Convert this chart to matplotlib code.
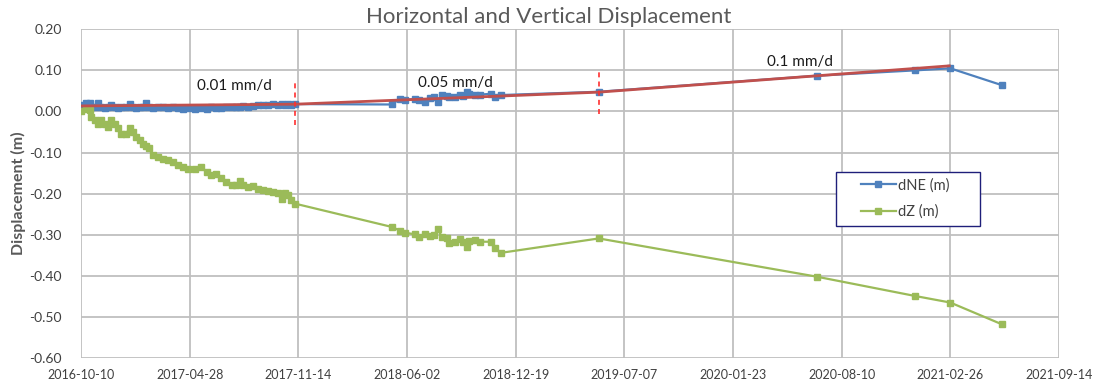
import matplotlib.pyplot as plt
import matplotlib.dates as mdates
import pandas as pd
from matplotlib.patches import Rectangle
from matplotlib.lines import Line2D

plt.rcParams['font.family'] = ['Lato', 'DejaVu Sans']
plt.rcParams['axes.unicode_minus'] = False

# survey epochs
survey_dates = [
    '2016-10-10', '2016-10-20', '2016-10-26', '2016-10-29', '2016-11-04', '2016-11-10',
    '2016-11-16', '2016-11-23', '2016-11-29', '2016-12-05', '2016-12-11', '2016-12-17',
    '2016-12-23', '2017-01-01', '2017-01-08', '2017-01-14', '2017-01-20', '2017-01-26',
    '2017-02-01', '2017-02-07', '2017-02-13', '2017-02-19', '2017-03-01', '2017-03-10',
    '2017-03-19', '2017-03-28', '2017-04-06', '2017-04-16', '2017-04-25', '2017-05-07',
    '2017-05-19', '2017-05-29', '2017-06-07', '2017-06-16', '2017-06-25', '2017-07-04',
    '2017-07-14', '2017-07-23', '2017-07-29', '2017-08-04', '2017-08-13', '2017-08-22',
    '2017-09-01', '2017-09-10', '2017-09-19', '2017-09-28', '2017-10-07', '2017-10-14',
    '2017-10-20', '2017-10-26', '2017-11-01', '2017-11-07',
    '2018-05-05', '2018-05-20', '2018-05-29', '2018-06-17', '2018-06-24', '2018-07-05',
    '2018-07-14', '2018-07-22', '2018-07-29', '2018-08-05', '2018-08-14', '2018-08-19',
    '2018-08-29', '2018-09-07', '2018-09-13', '2018-09-21', '2018-09-24', '2018-10-05',
    '2018-10-14', '2018-11-03', '2018-11-11', '2018-11-22',
    '2019-05-21', '2020-06-25', '2020-12-23', '2021-02-26', '2021-06-01',
]

# horizontal displacement (m)
dne = [
    0.015, 0.020, 0.020, 0.012, 0.010, 0.020, 0.012, 0.008, 0.012, 0.015, 0.010, 0.008,
    0.012, 0.010, 0.018, 0.012, 0.008, 0.010, 0.010, 0.020, 0.010, 0.008, 0.010, 0.012,
    0.008, 0.010, 0.008, 0.007, 0.008, 0.006, 0.009, 0.007, 0.010, 0.008, 0.009, 0.011,
    0.010, 0.012, 0.010, 0.013, 0.012, 0.014, 0.015, 0.016, 0.015, 0.017, 0.016, 0.018,
    0.016, 0.017, 0.015, 0.018,
    0.017, 0.031, 0.029, 0.030, 0.029, 0.022, 0.034, 0.036, 0.023, 0.039, 0.038, 0.036,
    0.035, 0.039, 0.037, 0.047, 0.042, 0.040, 0.041, 0.043, 0.036, 0.040,
    0.048, 0.087, 0.100, 0.105, 0.064,
]

# vertical displacement (m)
dz = [
    0.000, 0.005, 0.003, -0.014, -0.021, -0.030, -0.021, -0.030, -0.037, -0.021, -0.030, -0.041,
    -0.054, -0.054, -0.040, -0.050, -0.062, -0.070, -0.080, -0.084, -0.090, -0.106, -0.110, -0.115,
    -0.118, -0.123, -0.131, -0.135, -0.139, -0.140, -0.135, -0.147, -0.155, -0.151, -0.163, -0.171,
    -0.179, -0.179, -0.169, -0.179, -0.184, -0.182, -0.188, -0.192, -0.194, -0.196, -0.198, -0.212,
    -0.198, -0.204, -0.216, -0.224,
    -0.281, -0.290, -0.295, -0.299, -0.305, -0.299, -0.304, -0.300, -0.287, -0.305, -0.307, -0.320,
    -0.317, -0.311, -0.317, -0.330, -0.315, -0.313, -0.317, -0.317, -0.333, -0.344,
    -0.309, -0.402, -0.449, -0.465, -0.518,
]

# piecewise horizontal trend
trend_dates = ['2016-10-10', '2017-11-08', '2019-05-21', '2021-02-24']
trend_values = [0.0135, 0.0177, 0.047, 0.111]

# rate-change markers
break_dates = ['2017-11-08', '2019-05-21']
break_low = [-0.034, -0.005]
break_high = [0.072, 0.102]

rate_labels = ['0.01 mm/d', '0.05 mm/d', '0.1 mm/d']
rate_dates = ['2017-07-20', '2018-08-31', '2020-05-25']
rate_values = [0.062, 0.070, 0.121]

blue = '#4F81BD'
green = '#9BBB59'
red = '#C0504D'
grid_c = '#BFBFBF'
text_c = '#404040'

t = pd.to_datetime(survey_dates)

fig = plt.figure(figsize=(11.16, 3.87), dpi=100)
ax = fig.add_axes([0.0726, 0.0749, 0.8763, 0.8494])

ax.plot(t, dne, color=blue, lw=1.6, marker='s', ms=4.0, label='dNE (m)', zorder=3)
ax.plot(t, dz, color=green, lw=1.6, marker='s', ms=4.0, label='dZ (m)', zorder=3)
ax.plot(pd.to_datetime(trend_dates), trend_values, color=red, lw=2.0, zorder=4)

for d, lo, hi in zip(pd.to_datetime(break_dates), break_low, break_high):
    ax.plot([d, d], [lo, hi], color='#FF3030', lw=1.2, ls=(0, (3, 2.5)), zorder=5)

for lbl, d, v in zip(rate_labels, pd.to_datetime(rate_dates), rate_values):
    ax.text(d, v, lbl, ha='center', va='center', fontsize=11, color='#1a1a1a')

xticks = pd.date_range('2016-10-10', periods=10, freq='200D')
ax.set_xlim(xticks[0], xticks[-1])
ax.set_xticks(xticks)
ax.xaxis.set_major_formatter(mdates.DateFormatter('%Y-%m-%d'))
ax.set_ylim(-0.6, 0.2)
ax.set_yticks([-0.6, -0.5, -0.4, -0.3, -0.2, -0.1, 0.0, 0.1, 0.2])
ax.yaxis.set_major_formatter(plt.FormatStrFormatter('%.2f'))

ax.grid(True, color=grid_c, lw=1.3)
ax.set_axisbelow(True)
for s in ax.spines.values():
    s.set_visible(False)
ax.tick_params(length=0, labelcolor=text_c)
ax.tick_params(axis='y', pad=14, labelsize=10)
ax.tick_params(axis='x', pad=8, labelsize=9)

ax.set_ylabel('Displacement (m)', fontsize=11.5, fontweight='bold', color='#595959', labelpad=2)
fig.text(0.492, 0.955, 'Horizontal and Vertical Displacement', ha='center', va='center',
         fontsize=16, color='#595959')

# legend with a navy frame
ax.add_patch(Rectangle((0.772, 0.4025), 0.147, 0.1645, transform=ax.transAxes,
                       fill=True, facecolor='white', edgecolor='#1F1F7A', lw=1.0, zorder=6))
handles = [Line2D([], [], color=blue, lw=1.6, marker='s', ms=4.0),
           Line2D([], [], color=green, lw=1.6, marker='s', ms=4.0)]
leg = ax.legend(handles, ['dNE (m)', 'dZ (m)'], loc='center left', bbox_to_anchor=(0.79, 0.485),
                frameon=False, fontsize=10.5, handlelength=2.4, handletextpad=0.15,
                labelspacing=0.85, borderpad=0)
leg.set_zorder(7)
for txt in leg.get_texts():
    txt.set_color(text_c)

fig.savefig('out.png', dpi=100)
